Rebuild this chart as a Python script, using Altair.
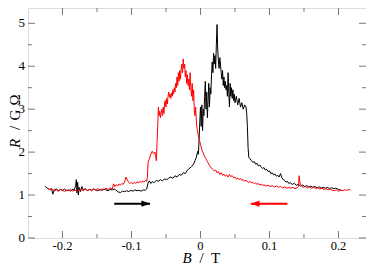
import altair as alt
import pandas as pd

# ---- data ----
black_B = [-0.225, -0.222, -0.219, -0.216, -0.214, -0.212, -0.209, -0.206, -0.203, -0.200,
           -0.197, -0.194, -0.191, -0.188, -0.185, -0.183, -0.181, -0.180, -0.179, -0.178,
           -0.177, -0.176, -0.174, -0.172, -0.170, -0.167, -0.164, -0.161, -0.158, -0.155,
           -0.152, -0.149, -0.146, -0.143, -0.140, -0.137, -0.134, -0.131, -0.128, -0.125,
           -0.122, -0.119, -0.116, -0.113, -0.110, -0.107, -0.104, -0.101, -0.098, -0.095,
           -0.092, -0.089, -0.086, -0.083, -0.080, -0.078, -0.076, -0.074, -0.072, -0.070,
           -0.067, -0.064, -0.061, -0.058, -0.055, -0.052, -0.049, -0.046, -0.043, -0.040,
           -0.037, -0.034, -0.031, -0.028, -0.025, -0.022, -0.019, -0.016, -0.013, -0.010,
           -0.008, -0.006, -0.004, -0.003, -0.002, -0.001, 0.000, 0.001, 0.002, 0.003,
           0.004, 0.005, 0.006, 0.007, 0.008, 0.009, 0.010, 0.011, 0.012, 0.013,
           0.014, 0.015, 0.016, 0.017, 0.018, 0.019, 0.020, 0.021, 0.022, 0.023,
           0.024, 0.025, 0.026, 0.027, 0.028, 0.029, 0.030, 0.031, 0.032, 0.033,
           0.034, 0.035, 0.036, 0.037, 0.038, 0.039, 0.040, 0.041, 0.042, 0.043,
           0.044, 0.045, 0.046, 0.047, 0.048, 0.049, 0.050, 0.052, 0.054, 0.056,
           0.058, 0.060, 0.062, 0.064, 0.066, 0.067, 0.068, 0.069, 0.070, 0.072,
           0.074, 0.076, 0.078, 0.080, 0.082, 0.084, 0.086, 0.088, 0.090, 0.092,
           0.094, 0.096, 0.098, 0.100, 0.102, 0.104, 0.106, 0.108, 0.110, 0.112,
           0.114, 0.116, 0.118, 0.120, 0.122, 0.124, 0.126, 0.128, 0.130, 0.133,
           0.136, 0.139, 0.142, 0.145, 0.148, 0.151, 0.154, 0.157, 0.160, 0.163,
           0.166, 0.169, 0.172, 0.175, 0.178, 0.181, 0.184, 0.187, 0.190, 0.193,
           0.196, 0.199, 0.202, 0.205]
black_R = [1.20, 1.16, 1.13, 1.15, 1.02, 1.12, 1.14, 1.10, 1.13, 1.11,
           1.14, 1.10, 1.12, 1.09, 1.14, 1.11, 1.22, 1.36, 1.05, 1.30,
           1.00, 1.18, 1.08, 1.20, 1.12, 1.15, 1.10, 1.13, 1.11, 1.14,
           1.12, 1.10, 1.13, 1.11, 1.14, 1.12, 1.10, 1.13, 1.12, 1.14,
           1.11, 1.07, 1.06, 1.09, 1.08, 1.10, 1.08, 1.11, 1.09, 1.12,
           1.10, 1.11, 1.09, 1.12, 1.11, 1.14, 1.28, 1.33, 1.27, 1.31,
           1.29, 1.34, 1.32, 1.36, 1.33, 1.38, 1.35, 1.40, 1.42, 1.39,
           1.45, 1.42, 1.48, 1.46, 1.52, 1.50, 1.58, 1.62, 1.66, 1.72,
           1.80, 1.88, 2.02, 1.95, 2.30, 2.70, 3.05, 2.60, 3.10, 2.50,
           3.00, 2.85, 3.30, 3.65, 3.00, 3.40, 2.80, 3.20, 3.60, 3.05,
           3.50, 3.35, 3.80, 4.10, 3.85, 4.30, 4.05, 4.25, 3.95, 4.50,
           4.97, 4.40, 4.10, 3.95, 4.20, 4.05, 3.85, 3.70, 3.90, 3.55,
           3.75, 3.50, 3.65, 3.45, 3.55, 3.30, 3.85, 3.40, 3.05, 3.60,
           3.30, 3.50, 3.25, 3.45, 3.20, 3.35, 3.15, 3.30, 3.10, 3.25,
           3.05, 3.15, 3.00, 3.10, 3.05, 2.90, 2.60, 2.10, 1.88, 1.84,
           1.80, 1.76, 1.78, 1.72, 1.74, 1.68, 1.70, 1.65, 1.62, 1.64,
           1.58, 1.60, 1.55, 1.56, 1.50, 1.52, 1.47, 1.49, 1.44, 1.46,
           1.42, 1.50, 1.40, 1.36, 1.34, 1.30, 1.32, 1.27, 1.29, 1.25,
           1.27, 1.23, 1.25, 1.21, 1.23, 1.20, 1.22, 1.19, 1.21, 1.18,
           1.20, 1.17, 1.19, 1.16, 1.18, 1.16, 1.18, 1.15, 1.17, 1.15,
           1.16, 1.14, 1.12, 1.11]

red_B = [-0.221, -0.218, -0.215, -0.212, -0.209, -0.206, -0.203, -0.200, -0.197, -0.194,
         -0.191, -0.188, -0.185, -0.182, -0.179, -0.176, -0.173, -0.170, -0.167, -0.164,
         -0.161, -0.158, -0.155, -0.152, -0.149, -0.146, -0.143, -0.140, -0.137, -0.134,
         -0.131, -0.128, -0.126, -0.124, -0.122, -0.120, -0.118, -0.116, -0.114, -0.112,
         -0.110, -0.108, -0.106, -0.104, -0.102, -0.100, -0.098, -0.096, -0.094, -0.092,
         -0.090, -0.088, -0.086, -0.084, -0.082, -0.080, -0.078, -0.077, -0.076, -0.074,
         -0.072, -0.070, -0.068, -0.066, -0.065, -0.064, -0.063, -0.062, -0.061, -0.060,
         -0.059, -0.058, -0.057, -0.056, -0.055, -0.054, -0.053, -0.052, -0.051, -0.050,
         -0.049, -0.048, -0.047, -0.046, -0.045, -0.044, -0.043, -0.042, -0.041, -0.040,
         -0.039, -0.038, -0.037, -0.036, -0.035, -0.034, -0.033, -0.032, -0.031, -0.030,
         -0.029, -0.028, -0.027, -0.026, -0.025, -0.024, -0.023, -0.022, -0.021, -0.020,
         -0.019, -0.018, -0.017, -0.016, -0.015, -0.014, -0.013, -0.012, -0.011, -0.010,
         -0.009, -0.008, -0.007, -0.006, -0.005, -0.004, -0.003, -0.002, -0.001, 0.000,
         0.002, 0.004, 0.006, 0.008, 0.010, 0.012, 0.014, 0.016, 0.018, 0.020,
         0.022, 0.024, 0.026, 0.028, 0.030, 0.032, 0.034, 0.036, 0.038, 0.040,
         0.042, 0.044, 0.046, 0.048, 0.050, 0.052, 0.054, 0.056, 0.058, 0.060,
         0.062, 0.064, 0.066, 0.068, 0.070, 0.072, 0.074, 0.076, 0.078, 0.080,
         0.082, 0.084, 0.086, 0.088, 0.090, 0.092, 0.095, 0.098, 0.101, 0.104,
         0.107, 0.110, 0.113, 0.116, 0.119, 0.122, 0.125, 0.128, 0.131, 0.134,
         0.137, 0.140, 0.142, 0.143, 0.144, 0.146, 0.149, 0.152, 0.155, 0.158,
         0.161, 0.164, 0.167, 0.170, 0.173, 0.176, 0.179, 0.182, 0.185, 0.188,
         0.191, 0.194, 0.197, 0.200, 0.203, 0.206, 0.209, 0.212, 0.215, 0.217]
red_R = [1.16, 1.12, 1.14, 1.10, 1.12, 1.09, 1.13, 1.11, 1.08, 1.12,
         1.10, 1.13, 1.09, 1.12, 1.08, 1.11, 1.13, 1.10, 1.14, 1.11,
         1.13, 1.10, 1.14, 1.12, 1.15, 1.11, 1.14, 1.12, 1.16, 1.13,
         1.17, 1.14, 1.26, 1.20, 1.24, 1.21, 1.26, 1.23, 1.27, 1.25,
         1.30, 1.42, 1.35, 1.30, 1.27, 1.29, 1.26, 1.30, 1.27, 1.31,
         1.28, 1.32, 1.29, 1.33, 1.30, 1.34, 1.32, 1.40, 1.75, 1.85,
         1.95, 2.02, 1.96, 2.00, 1.90, 1.80, 2.20, 2.60, 3.05, 2.85,
         2.95, 2.80, 2.92, 3.00, 2.85, 3.05, 2.90, 3.15, 3.20, 3.05,
         3.25, 3.12, 3.30, 3.40, 3.28, 3.35, 3.25, 3.38, 3.30, 3.45,
         3.35, 3.50, 3.40, 3.60, 3.50, 3.75, 3.55, 3.85, 3.65, 3.90,
         3.70, 3.95, 4.05, 3.85, 4.17, 3.95, 4.05, 3.75, 3.90, 3.60,
         3.80, 3.55, 3.70, 3.45, 3.85, 3.50, 3.30, 3.60, 3.20, 3.45,
         3.00, 2.85, 3.05, 2.70, 2.55, 2.45, 2.38, 2.30, 2.25, 2.18,
         2.05, 1.98, 1.90, 1.84, 1.78, 1.72, 1.67, 1.62, 1.60, 1.56,
         1.58, 1.52, 1.55, 1.48, 1.52, 1.46, 1.49, 1.44, 1.47, 1.42,
         1.48, 1.43, 1.45, 1.40, 1.42, 1.37, 1.40, 1.36, 1.38, 1.34,
         1.36, 1.32, 1.35, 1.31, 1.29, 1.32, 1.28, 1.30, 1.26, 1.28,
         1.25, 1.27, 1.23, 1.26, 1.22, 1.24, 1.21, 1.23, 1.20, 1.22,
         1.19, 1.21, 1.18, 1.20, 1.17, 1.19, 1.16, 1.18, 1.16, 1.18,
         1.15, 1.17, 1.20, 1.45, 1.30, 1.22, 1.18, 1.20, 1.17, 1.19,
         1.16, 1.18, 1.15, 1.17, 1.14, 1.16, 1.13, 1.15, 1.12, 1.14,
         1.11, 1.10, 1.12, 1.09, 1.11, 1.10, 1.12, 1.11, 1.13, 1.12]

x_major = [-0.2, -0.1, 0.0, 0.1, 0.2]
x_labels = ["-0.2", "-0.1", "0", "0.1", "0.2"]
x_minor = [-0.15, -0.05, 0.05, 0.15]
y_major = [0, 1, 2, 3, 4, 5]
y_labels = ["0", "1", "2", "3", "4", "5"]
y_minor = [0.5, 1.5, 2.5, 3.5, 4.5]

arrow_black = [-0.125, -0.073]   # start, tip
arrow_red = [0.126, 0.073]       # start, tip
arrow_R = 0.8

# ---- layout ----
W, H = 338, 230
FONT = "Liberation Serif"
AX = "#777777"
xs = alt.Scale(domain=[-0.25, 0.2399], nice=False, zero=False)
ys = alt.Scale(domain=[0, 5.356], nice=False, zero=False)
NOX = dict(scale=xs, axis=None)
NOY = dict(scale=ys, axis=None)

black_df = pd.DataFrame({"B": black_B, "R": black_R})
red_df = pd.DataFrame({"B": red_B, "R": red_R})

black_line = alt.Chart(black_df).mark_line(color="black", strokeWidth=1).encode(
    x=alt.X("B:Q", **NOX), y=alt.Y("R:Q", **NOY))
red_line = alt.Chart(red_df).mark_line(color="#ff0000", strokeWidth=1).encode(
    x=alt.X("B:Q", **NOX), y=alt.Y("R:Q", **NOY))


def xticks(vals, length):
    d = pd.DataFrame({"v": vals})
    bot = alt.Chart(d).mark_rule(color=AX, strokeWidth=1).encode(
        x=alt.X("v:Q", **NOX), y=alt.value(H), y2=alt.value(H - length))
    top = alt.Chart(d).mark_rule(color=AX, strokeWidth=1).encode(
        x=alt.X("v:Q", **NOX), y=alt.value(0), y2=alt.value(length))
    return [bot, top]


def yticks(vals, length):
    d = pd.DataFrame({"v": vals})
    left = alt.Chart(d).mark_rule(color=AX, strokeWidth=1).encode(
        y=alt.Y("v:Q", **NOY), x=alt.value(0), x2=alt.value(length))
    right = alt.Chart(d).mark_rule(color=AX, strokeWidth=1).encode(
        y=alt.Y("v:Q", **NOY), x=alt.value(W), x2=alt.value(W - length))
    return [left, right]


ticks = xticks(x_major, 7) + xticks(x_minor, 4) + yticks(y_major, 7) + yticks(y_minor, 4)

xlab = alt.Chart(pd.DataFrame({"v": x_major, "t": x_labels})).mark_text(
    font=FONT, fontSize=12.5, color="black", align="center", baseline="top").encode(
    x=alt.X("v:Q", **NOX), y=alt.value(H + 2), text="t:N")
ylab = alt.Chart(pd.DataFrame({"v": y_major, "t": y_labels})).mark_text(
    font=FONT, fontSize=13, color="black", align="right", baseline="middle").encode(
    y=alt.Y("v:Q", **NOY), x=alt.value(-3), text="t:N")


def arrow(pts, color, head_path):
    d = pd.DataFrame({"a": [pts[0]], "b": [pts[1]], "r": [arrow_R]})
    shaft = alt.Chart(d).mark_rule(color=color, strokeWidth=2).encode(
        x=alt.X("a:Q", **NOX), x2="b:Q", y=alt.Y("r:Q", **NOY))
    head = alt.Chart(d).mark_point(shape=head_path, filled=True, size=300, color=color,
                                   opacity=1, strokeWidth=0).encode(
        x=alt.X("b:Q", **NOX), y=alt.Y("r:Q", **NOY))
    return [shaft, head]


arrows = arrow(arrow_black, "black", "M0,0L-1,-0.36L-1,0.36Z") + \
    arrow(arrow_red, "#ff0000", "M0,0L1,-0.36L1,0.36Z")

one = alt.Data(values=[{}])


def label(txt, x, y, italic=False, angle=0):
    kw = dict(text=txt, font=FONT, fontSize=15, color="black", align="center",
              baseline="alphabetic" if angle == 0 else "middle")
    if italic:
        kw["fontStyle"] = "italic"
    if angle:
        kw["angle"] = angle
    return alt.Chart(one).mark_text(**kw).encode(x=alt.value(x), y=alt.value(y))


titles = [
    label("B", 159, 254.5, italic=True),
    label("/", 173.5, 254.5),
    label("T", 187.5, 254.5),
    label("R", -13, 135.5, italic=True, angle=270),
    label("/", -13, 120, angle=270),
    label("G", -13, 107, angle=270),
    label("Ω", -13, 92, angle=270),
]

chart = alt.layer(black_line, red_line, *ticks, xlab, ylab, *arrows, *titles).properties(
    width=W, height=H,
    autosize=alt.AutoSizeParams(type="none"),
    padding={"left": 20, "top": 0, "right": 0, "bottom": 28},
).configure_view(stroke=AX, strokeWidth=1.5).configure(background="white")

chart.save("out.html", embed_options={"renderer": "svg", "actions": False})
